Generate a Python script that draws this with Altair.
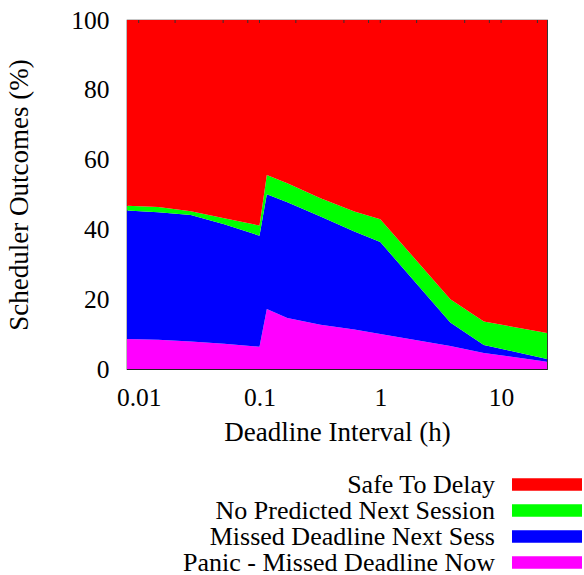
import altair as alt
import pandas as pd

# Deadline interval (hours) at which the shares were read
interval_h = [0.008, 0.0145, 0.027, 0.051, 0.1, 0.115, 0.17, 0.32, 0.61, 1.0, 3.8, 7.2, 24.0]

# Share of each scheduler outcome (%) at those intervals
panic_now = [8.6, 8.4, 7.9, 7.2, 6.4, 17.2, 14.6, 12.7, 11.3, 10.0, 6.6, 4.6, 2.1]
missed_next = [36.8, 36.5, 36.2, 34.3, 31.8, 32.9, 33.2, 31.0, 28.1, 26.4, 6.7, 2.3, 0.8]
no_predicted = [1.4, 1.5, 1.1, 1.7, 2.9, 5.5, 5.4, 5.2, 5.7, 6.5, 6.7, 6.7, 7.4]
safe_delay = [53.2, 53.6, 54.8, 56.8, 58.9, 44.4, 46.8, 51.1, 54.9, 57.1, 80.0, 86.4, 89.7]

series_names = ["Panic - Missed Deadline Now", "Missed Deadline Next Sess",
                "No Predicted Next Session", "Safe To Delay"]
series_colors = ["#ff00ff", "#0000ff", "#00ff00", "#ff0000"]
series_values = [panic_now, missed_next, no_predicted, safe_delay]

legend_order = ["Safe To Delay", "No Predicted Next Session",
                "Missed Deadline Next Sess", "Panic - Missed Deadline Now"]

x_labels = [0.01, 0.1, 1, 10]
y_labels = [0, 20, 40, 60, 80, 100]
top_ticks = [0.01, 0.02, 0.05, 0.08, 0.1, 0.2, 0.5, 0.8, 1, 2, 5, 8, 10, 20]

rows = []
for k, (name, vals) in enumerate(zip(series_names, series_values)):
    for xv, v in zip(interval_h, vals):
        rows.append({"x": xv, "value": v, "series": name, "order": k})
df = pd.DataFrame(rows)
legend_df = pd.DataFrame({"series": legend_order})
ticks_df = pd.DataFrame({"x": top_ticks})

FONT = "Liberation Serif, Times New Roman, serif"
color_scale = alt.Scale(domain=series_names, range=series_colors)
x_scale = alt.Scale(type="log", domain=[0.008, 24], nice=False)

areas = alt.Chart(df).mark_area(interpolate="linear").encode(
    x=alt.X("x:Q", scale=x_scale,
            axis=alt.Axis(values=x_labels, format="~g", title="Deadline Interval (h)",
                          labelFlush=False, labelOverlap=False, labelPadding=16,
                          titlePadding=9)),
    y=alt.Y("value:Q", stack="zero", scale=alt.Scale(domain=[0, 100], nice=False),
            axis=alt.Axis(values=y_labels, title="Scheduler Outcomes (%)",
                          labelPadding=18, titlePadding=37)),
    color=alt.Color("series:N", scale=color_scale, legend=None),
    order=alt.Order("order:Q"),
)

ticks = alt.Chart(ticks_df).mark_rule(color="#333333", strokeWidth=1).encode(
    x=alt.X("x:Q", scale=x_scale),
    y=alt.value(0), y2=alt.value(3),
)

legend_y = alt.Y("series:N", scale=alt.Scale(type="point", domain=legend_order,
                                              range=[464.5, 542.5], padding=0),
                 axis=None)
legend_text = alt.Chart(legend_df).mark_text(
    align="right", baseline="middle", font=FONT, fontSize=26, color="black"
).encode(x=alt.value(368), y=legend_y, text="series:N")
legend_sym = alt.Chart(legend_df).mark_rule(strokeWidth=12.5, strokeCap="butt").encode(
    x=alt.value(385), x2=alt.value(455), y=legend_y,
    color=alt.Color("series:N", scale=color_scale, legend=None),
)

chart = alt.layer(areas, ticks, legend_sym, legend_text).resolve_scale(
    y="independent"
).properties(
    width=420, height=349,
    autosize=alt.AutoSizeParams(type="none"),
    padding={"left": 127, "top": 20, "right": 37, "bottom": 206},
).configure_view(
    stroke="#222222", strokeWidth=1.2
).configure_axis(
    labelFont=FONT, labelFontSize=25.5, labelColor="black",
    titleFont=FONT, titleFontSize=27, titleFontWeight="normal", titleColor="black",
    grid=False, ticks=False, domain=False,
)

chart.save("out.html", embed_options={"renderer": "svg", "actions": False})
